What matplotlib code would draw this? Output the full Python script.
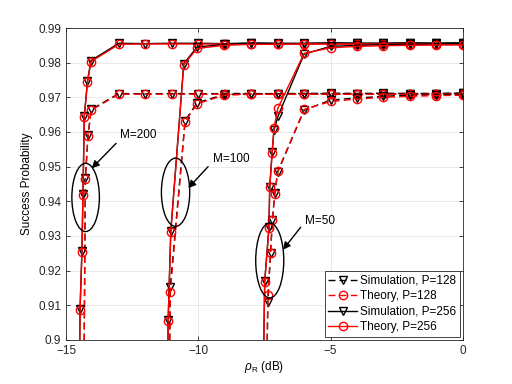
import numpy as np
import matplotlib
matplotlib.use('Agg')
import matplotlib.pyplot as plt
from matplotlib.patches import Ellipse

plt.rcParams['font.family'] = ['Liberation Sans', 'DejaVu Sans']
plt.rcParams['mathtext.fontset'] = 'custom'
plt.rcParams['mathtext.rm'] = 'Liberation Sans'
plt.rcParams['mathtext.it'] = 'Liberation Sans:italic'

# M=200
x200_256 = [-14.55, -14.47, -14.40, -14.36, -14.31, -14.19, -14.06, -13, -12, -11, -10,
            -9, -8, -7, -6, -5, -4, -3, -2, -1, 0]
th200_256 = [0.85, 0.9087, 0.9253, 0.9418, 0.9644, 0.9743, 0.9803, 0.9853, 0.9854, 0.9854, 0.9854,
             0.9854, 0.9854, 0.9854, 0.9854, 0.9854, 0.9854, 0.9854, 0.9854, 0.9854, 0.9854]
sim200_256 = [0.85, 0.9090, 0.9255, 0.9421, 0.9646, 0.9746, 0.9806, 0.9856, 0.9855, 0.9856, 0.9856,
              0.9855, 0.9857, 0.9856, 0.9855, 0.9857, 0.9856, 0.9856, 0.9857, 0.9856, 0.9857]
x200_128 = [-14.36, -14.27, -14.17, -14.05, -13, -12, -11, -10, -9, -8, -7, -6, -5, -4, -3, -2, -1, 0]
th200_128 = [0.85, 0.9464, 0.9587, 0.9663, 0.9709, 0.9709, 0.9709, 0.9709, 0.9709, 0.9709, 0.9709,
             0.9709, 0.9709, 0.9709, 0.9709, 0.9709, 0.9709, 0.9709]
sim200_128 = [0.85, 0.9467, 0.9590, 0.9665, 0.9711, 0.9710, 0.9711, 0.9710, 0.9711, 0.9711, 0.9710,
              0.9711, 0.9712, 0.9711, 0.9710, 0.9711, 0.9711, 0.9712]

# M=100
x100_256 = [-11.2, -11.14, -11.04, -10.55, -10.05, -9.03, -8, -7, -6, -5, -4, -3, -2, -1, 0]
th100_256 = [0.85, 0.9055, 0.9312, 0.9794, 0.9841, 0.9850, 0.9853, 0.9853, 0.9854, 0.9854, 0.9854,
             0.9854, 0.9854, 0.9854, 0.9854]
sim100_256 = [0.85, 0.9058, 0.9315, 0.9797, 0.9845, 0.9853, 0.9856, 0.9855, 0.9856, 0.9857, 0.9856,
              0.9856, 0.9857, 0.9856, 0.9857]
x100_128 = [-11.15, -11.06, -10.5, -10.05, -9.03, -8, -7, -6, -5, -4, -3, -2, -1, 0]
th100_128 = [0.85, 0.9139, 0.9630, 0.9681, 0.9706, 0.9709, 0.9709, 0.9709, 0.9709, 0.9709, 0.9709,
             0.9709, 0.9709, 0.9709]
sim100_128 = [0.85, 0.9153, 0.9633, 0.9684, 0.9708, 0.9710, 0.9711, 0.9711, 0.9710, 0.9711, 0.9712,
              0.9711, 0.9711, 0.9712]

# M=50
x50_256 = [-7.62, -7.49, -7.33, -7.30, -7.21, -7.14, -6.99, -6, -5, -4, -3, -2, -1, 0]
th50_256 = [0.85, 0.9168, 0.9322, 0.9442, 0.9539, 0.9612, 0.9669, 0.9827, 0.9843, 0.9847, 0.9849,
            0.9850, 0.9851, 0.9851]
sim50_256 = [0.85, 0.9170, 0.9325, 0.9440, 0.9541, 0.9605, 0.9645, 0.9825, 0.9847, 0.9850, 0.9852,
             0.9853, 0.9854, 0.9855]
x50_128 = [-7.5, -7.37, -7.27, -7.20, -7.11, -7.0, -6, -5, -4, -3, -2, -1, 0]
th50_128 = [0.85, 0.9130, 0.9252, 0.9346, 0.9421, 0.9486, 0.9665, 0.9688, 0.9695, 0.9700, 0.9703,
            0.9705, 0.9706]
sim50_128 = [0.85, 0.9108, 0.9250, 0.9346, 0.9423, 0.9484, 0.9663, 0.9692, 0.9698, 0.9703, 0.9706,
             0.9707, 0.9708]

# annotations: label, text pos, arrow tail, arrow head, ellipse centre / size
notes = [('M=200', (-12.28, 0.9591), (-13.11, 0.9567), (-14.03, 0.9495), (-14.26, 0.9411), (1.04, 0.0197)),
         ('M=100', (-8.75, 0.9521), (-9.63, 0.9500), (-10.38, 0.9438), (-10.86, 0.9426), (1.07, 0.0197)),
         ('M=50', (-5.40, 0.9344), (-6.13, 0.9325), (-6.80, 0.9260), (-7.30, 0.9229), (1.06, 0.0216))]

fig = plt.figure(figsize=(5.12, 3.84), dpi=100)
ax = fig.add_axes([0.129, 0.115, 0.775, 0.812])

ms = 6
lw = 1.0
dash = (5, 3)
groups = [(x200_128, sim200_128, th200_128, x200_256, sim200_256, th200_256),
          (x100_128, sim100_128, th100_128, x100_256, sim100_256, th100_256),
          (x50_128, sim50_128, th50_128, x50_256, sim50_256, th50_256)]
for i, (xa, sa, ta, xb, sb, tb) in enumerate(groups):
    ax.plot(xa, sa, color='k', ls='--', dashes=dash, lw=lw, marker='v', ms=ms, mfc='none',
            mew=1.0, label='Simulation, P=128' if i == 0 else None)
    ax.plot(xa, ta, color='r', ls='--', dashes=dash, lw=lw, marker='o', ms=ms, mfc='none',
            mew=1.0, label='Theory, P=128' if i == 0 else None)
    ax.plot(xb, sb, color='k', ls='-', lw=lw, marker='v', ms=ms, mfc='none',
            mew=1.0, label='Simulation, P=256' if i == 0 else None)
    ax.plot(xb, tb, color='r', ls='-', lw=lw, marker='o', ms=ms, mfc='none',
            mew=1.0, label='Theory, P=256' if i == 0 else None)

for lab, tpos, tail, head, cen, size in notes:
    ax.add_patch(Ellipse(cen, size[0], size[1], fill=False, ec='k', lw=1.0, zorder=5))
    ax.annotate('', xy=head, xytext=tail,
                arrowprops=dict(arrowstyle='-|>', color='k', lw=1.0, shrinkA=0, shrinkB=0,
                                mutation_scale=11))
    ax.text(tpos[0], tpos[1], lab, fontsize=8.5, ha='center', va='center')

ax.set_xlim(-15, 0)
ax.set_ylim(0.9, 0.99)
ax.set_xticks([-15, -10, -5, 0])
ax.set_yticks(np.arange(0.9, 0.9901, 0.01))
ax.set_yticklabels(['0.9', '0.91', '0.92', '0.93', '0.94', '0.95', '0.96', '0.97', '0.98', '0.99'])
ax.tick_params(direction='in', labelsize=8.5, length=3, width=0.6, top=True, right=True, colors='#262626')
ax.grid(True, color='#e6e6e6', lw=0.6)
ax.set_axisbelow(True)
for s in ax.spines.values():
    s.set_color('#262626')
    s.set_linewidth(0.6)
ax.set_xlabel(r'$\rho_{\mathrm{R}}$ (dB)', fontsize=8.5, labelpad=2)
ax.set_ylabel('Success Probability', fontsize=8.5, labelpad=4)

leg = ax.legend(loc='lower right', fontsize=8.5, fancybox=False, edgecolor='#262626',
                framealpha=1, borderaxespad=0.25, handlelength=2.4, borderpad=0.3,
                labelspacing=0.3, handletextpad=0.3)
leg.get_frame().set_linewidth(0.6)

fig.savefig('out.png', dpi=100)
